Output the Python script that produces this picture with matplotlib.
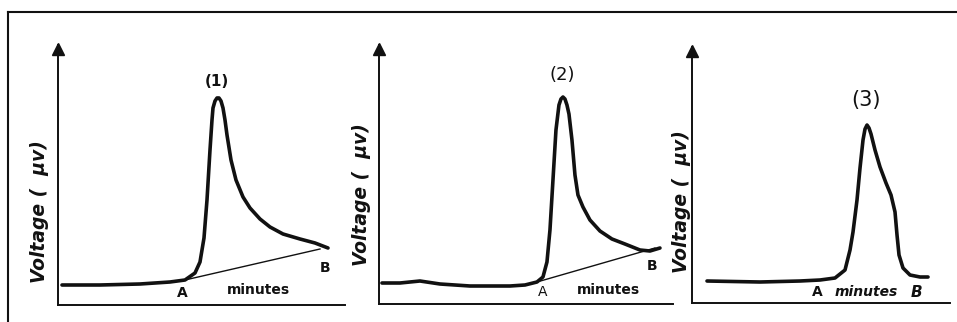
import matplotlib.pyplot as plt
from matplotlib.lines import Line2D

# curve samples, arbitrary units (minutes, microvolts) measured from each panel origin
t1 = [4, 42, 82, 112, 127, 137, 142, 146, 149, 152, 154, 155, 157, 159, 161, 163,
      165, 167, 169, 173, 178, 185, 192, 202, 212, 225, 242, 257, 270]
v1 = [20, 20, 21, 23, 25, 32, 43, 67, 105, 155, 185, 197, 204, 207, 207, 204,
      197, 185, 170, 145, 125, 108, 97, 86, 78, 71, 66, 62, 57]
chord1_t = [127, 262]
chord1_v = [25, 56]

t2 = [3, 21, 41, 61, 91, 131, 146, 158, 164, 168, 171, 174, 177, 180, 182, 184,
      186, 188, 190, 193, 196, 199, 204, 211, 221, 233, 246, 261, 271, 281]
v2 = [21, 21, 23, 20, 18, 18, 19, 22, 27, 42, 74, 124, 174, 199, 205, 207,
      205, 199, 190, 164, 129, 109, 97, 84, 73, 65, 60, 54, 53, 56]
chord2_t = [158, 276]
chord2_v = [22, 56]

t3 = [15, 68, 108, 128, 143, 153, 158, 161, 165, 168, 171, 173, 175, 177, 179,
      183, 188, 194, 199, 203, 205, 207, 211, 218, 228, 236]
v3 = [22, 21, 22, 23, 25, 33, 53, 71, 103, 135, 163, 174, 178, 175, 169,
      153, 136, 120, 108, 91, 68, 48, 35, 28, 26, 26]

peak_names = ['(1)', '(2)', '(3)']

INK = '#111111'

fig = plt.figure(figsize=(9.57, 3.22), dpi=100)
fig.patch.set_facecolor('white')

# outer frame (left + top edge of the scanned box)
fig.add_artist(Line2D([0.0084, 0.0084], [0.0, 0.963], color=INK, lw=1.5,
                      transform=fig.transFigure))
fig.add_artist(Line2D([0.0084, 1.0], [0.963, 0.963], color=INK, lw=1.5,
                      transform=fig.transFigure))

panels = [
  # rect, xlim, ylim
  ([0.0606, 0.0528, 0.2999, 0.8075], 287, 260),
  ([0.3960, 0.0559, 0.3072, 0.8043], 294, 259),
  ([0.7231, 0.0590, 0.2696, 0.7950], 258, 256),
]

axes = []
for rect, w, h in panels:
  ax = fig.add_axes(rect)
  ax.set_xlim(0, w)
  ax.set_ylim(0, h)
  ax.set_xticks([])
  ax.set_yticks([])
  ax.patch.set_alpha(0)
  for side in ('top', 'right'):
    ax.spines[side].set_visible(False)
  for side in ('left', 'bottom'):
    ax.spines[side].set_linewidth(1.4)
    ax.spines[side].set_color(INK)
  ax.plot([0], [h - 4], marker='^', ms=9, color=INK, clip_on=False)
  axes.append(ax)

ax1, ax2, ax3 = axes

curve_kw = dict(color=INK, lw=2.6, solid_capstyle='round', solid_joinstyle='round')

ax1.plot(t1, v1, **curve_kw)
ax1.plot(chord1_t, chord1_v, color=INK, lw=1.0)
ax2.plot(t2, v2, **curve_kw)
ax2.plot(chord2_t, chord2_v, color=INK, lw=1.0)
ax3.plot(t3, v3, **curve_kw)

# axis labels
ylab = 'Voltage (  \u03bcv)'
lab_kw = dict(rotation=90, ha='center', va='center', fontsize=13.5,
              fontweight='bold', style='italic', color=INK)
ax1.text(-18, 93, ylab, **lab_kw)
ax2.text(-17, 109, ylab, **lab_kw)
ax3.text(-11, 101, ylab, **lab_kw)

# peak names
ax1.text(159, 223, peak_names[0], ha='center', va='center', fontsize=11,
         fontweight='bold', color=INK)
ax2.text(183, 229, peak_names[1], ha='center', va='center', fontsize=13, color=INK)
ax3.text(174, 203, peak_names[2], ha='center', va='center', fontsize=15, color=INK)

# A / minutes / B annotations
ax1.text(124, 12, 'A', ha='center', va='center', fontsize=10, fontweight='bold', color=INK)
ax1.text(200, 15, 'minutes', ha='center', va='center', fontsize=10, fontweight='bold', color=INK)
ax1.text(267, 37, 'B', ha='center', va='center', fontsize=10, fontweight='bold', color=INK)

ax2.text(164, 12, 'A', ha='center', va='center', fontsize=10, color=INK)
ax2.text(229, 14, 'minutes', ha='center', va='center', fontsize=10, fontweight='bold', color=INK)
ax2.text(273, 38, 'B', ha='center', va='center', fontsize=10, fontweight='bold', color=INK)

ax3.text(125, 11, 'A', ha='center', va='center', fontsize=10, fontweight='bold', color=INK)
ax3.text(174, 11, 'minutes', ha='center', va='center', fontsize=10, fontweight='bold',
         style='italic', color=INK)
ax3.text(224, 11, 'B', ha='center', va='center', fontsize=11, fontweight='bold',
         style='italic', color=INK)

fig.savefig('out.png', dpi=100, facecolor='white')
